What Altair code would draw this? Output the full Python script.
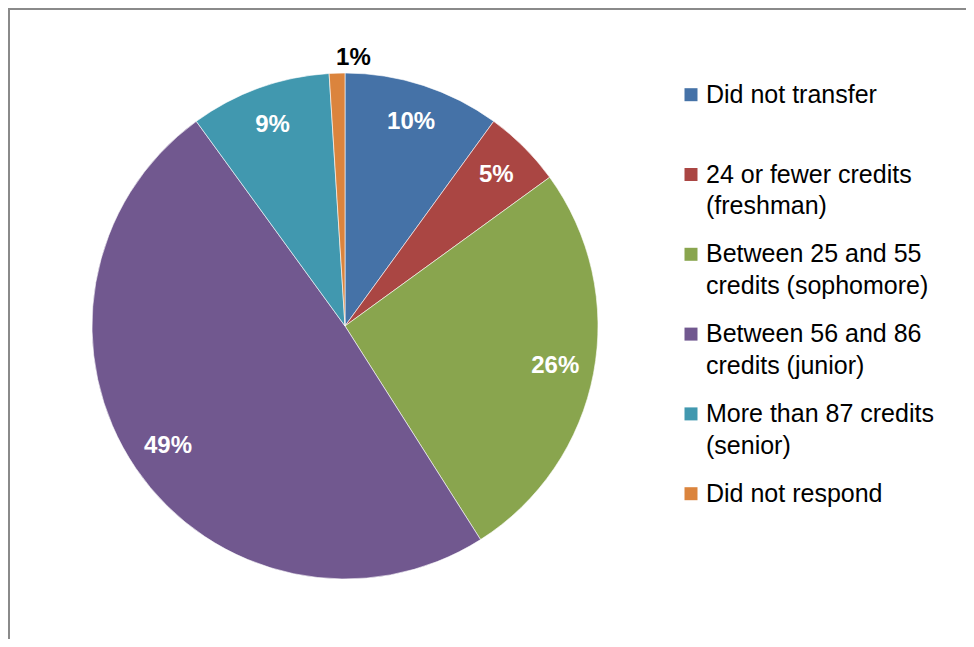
import altair as alt
import pandas as pd

# ---- data ----
categories = [
    "Did not transfer",
    "24 or fewer credits (freshman)",
    "Between 25 and 55 credits (sophomore)",
    "Between 56 and 86 credits (junior)",
    "More than 87 credits (senior)",
    "Did not respond",
]
values = [10, 5, 26, 49, 9, 1]
legend_lines = [
    ["Did not transfer"],
    ["24 or fewer credits", "(freshman)"],
    ["Between 25 and 55", "credits (sophomore)"],
    ["Between 56 and 86", "credits (junior)"],
    ["More than 87 credits", "(senior)"],
    ["Did not respond"],
]
colors = ["#4572A7", "#AA4643", "#89A54E", "#71588F", "#4198AF", "#DB843D"]

FONT = "Liberation Sans"
W, H = 958, 631
CX, CY, R = 337, 318, 253

df = pd.DataFrame({
    "idx": list(range(len(categories))),
    "cat": categories,
    "value": values,
    "label": [f"{v}%" for v in values],
})
legend_df = pd.DataFrame({
    "cat": categories,
    "text": ["\n".join(l) for l in legend_lines],
})

color_scale = alt.Scale(domain=categories, range=colors)
y_scale = alt.Scale(type="point", domain=categories, range=[94.7, 493.7], padding=0)

base = alt.Chart(df)

arcs = base.mark_arc(outerRadius=R, stroke="white", strokeWidth=0.6).encode(
    theta=alt.Theta("value:Q", stack=True),
    color=alt.Color("cat:N", scale=color_scale, legend=None),
    order=alt.Order("idx:Q"),
    x=alt.value(CX),
    y=alt.value(CY),
)

labels = base.transform_calculate(
    rpos="datum.value < 2 ? 268 : 214"
).mark_text(font=FONT, fontSize=24, fontWeight="bold", align="center", baseline="middle").encode(
    theta=alt.Theta("value:Q", stack=True),
    order=alt.Order("idx:Q"),
    radius=alt.Radius("rpos:Q", scale=None),
    text=alt.Text("label:N"),
    color=alt.condition("datum.value < 2", alt.value("#000000"), alt.value("#ffffff")),
    x=alt.value(CX),
    y=alt.value(CY),
)

leg_base = alt.Chart(legend_df)
leg_sq = leg_base.mark_square(size=169, opacity=1, yOffset=-8).encode(
    x=alt.value(683),
    y=alt.Y("cat:N", scale=y_scale, axis=None),
    color=alt.Color("cat:N", scale=color_scale, legend=None),
)
leg_txt = leg_base.mark_text(
    font=FONT, fontSize=25, align="left", baseline="alphabetic",
    lineBreak="\n", lineHeight=31.7, color="#000000",
).encode(
    x=alt.value(698),
    y=alt.Y("cat:N", scale=y_scale, axis=None),
    text=alt.Text("text:N"),
)

border_df = pd.DataFrame({"a": [0]})
left_rule = alt.Chart(border_df).mark_rule(color="#8a8a8a", strokeWidth=2).encode(
    x=alt.value(1), y=alt.value(0), y2=alt.value(H)
)
top_rule = alt.Chart(border_df).mark_rule(color="#8a8a8a", strokeWidth=2).encode(
    y=alt.value(1), x=alt.value(0), x2=alt.value(W)
)

chart = alt.layer(arcs, labels, leg_sq, leg_txt, left_rule, top_rule).properties(
    width=W, height=H,
    autosize=alt.AutoSizeParams(type="none"),
    padding=0,
    background="white",
).configure_view(stroke=None)

chart.save("out.html", embed_options={"renderer": "svg", "actions": False})
